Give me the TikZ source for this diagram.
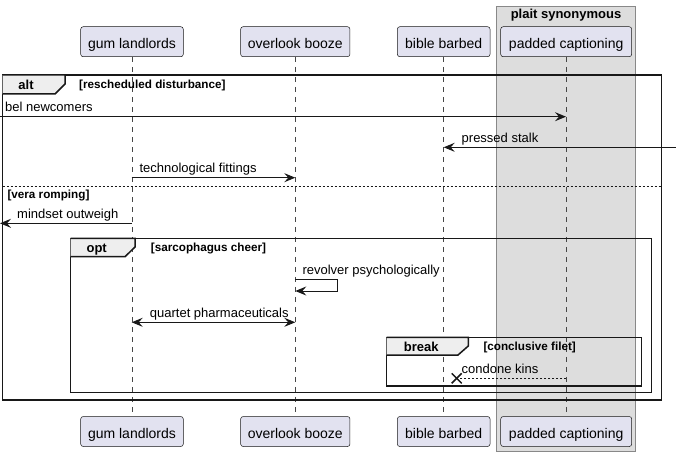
\documentclass[tikz,border=0pt]{standalone}
\usepackage{fontspec}
\setmainfont{Liberation Sans}
\usetikzlibrary{arrows.meta,calc}
\definecolor{partfill}{HTML}{E2E2F0}
\definecolor{ink}{HTML}{181818}
\definecolor{groupfill}{HTML}{DDDDDD}
\definecolor{groupdraw}{HTML}{888888}
\definecolor{tabfill}{HTML}{EEEEEE}
\tikzset{
  part/.style={draw=ink, line width=0.5pt, fill=partfill, rounded corners=2.5pt,
    minimum height=30pt, inner sep=0pt, text height=13pt, text depth=0pt,
    font=\fontsize{14}{16}\selectfont},
  lifeline/.style={draw=ink!80, line width=0.5pt, dash pattern=on 5pt off 5pt},
  groupbox/.style={draw=groupdraw, line width=0.6pt, fill=groupfill, inner sep=0pt},
  frame/.style={draw=ink, line width=1.5pt},
  tabshape/.style={draw=ink, line width=1.5pt, fill=tabfill},
  msgline/.style={draw=ink, line width=1pt},
  arr/.style={msgline, -{Stealth[length=11pt,width=9pt,inset=4pt]}},
  biarr/.style={msgline, {Stealth[length=11pt,width=9pt,inset=4pt]}-{Stealth[length=11pt,width=9pt,inset=4pt]}},
  msg/.style={inner sep=0pt, anchor=base west, font=\fontsize{13}{15}\selectfont, text=black},
  kind/.style={inner sep=0pt, anchor=base, font=\fontsize{13}{15}\selectfont\bfseries},
  guard/.style={inner sep=0pt, anchor=base west, font=\fontsize{11.7}{13}\selectfont\bfseries},
  septline/.style={draw=ink, line width=1pt, dash pattern=on 2pt off 2pt},
}
\begin{document}
\begin{tikzpicture}[x=1pt,y=-1pt]
\useasboundingbox (0,0) rectangle (676,457);
\fill[white] (0,0) rectangle (676,457);

% group box
\node[groupbox, minimum width=138.6pt, minimum height=445.7pt] (grp) at (566,228.85) {};
\node[inner sep=0pt, anchor=base, font=\fontsize{13}{15}\selectfont\bfseries] (grptitle) at (566,18.5) {plait synonymous};

% participants
\node[part, minimum width=102.6pt] (gumT) at (132,41.7) {gum landlords};
\node[part, minimum width=109.3pt] (ovlT) at (295.3,41.7) {overlook booze};
\node[part, minimum width=92.7pt] (bibT) at (443.7,41.7) {bible barbed};
\node[part, minimum width=131pt] (padT) at (566.2,41.7) {padded captioning};
\node[part, minimum width=102.6pt] (gumB) at (132,431.5) {gum landlords};
\node[part, minimum width=109.3pt] (ovlB) at (295.3,431.5) {overlook booze};
\node[part, minimum width=92.7pt] (bibB) at (443.7,431.5) {bible barbed};
\node[part, minimum width=131pt] (padB) at (566.2,431.5) {padded captioning};

% lifelines
\draw[lifeline] (gumT.south) -- (gumB.north);
\draw[lifeline] (ovlT.south) -- (ovlB.north);
\draw[lifeline] (bibT.south) -- (bibB.north);
\draw[lifeline] (padT.south) -- (padB.north);

% alt frame
\draw[frame] (2.7,75) rectangle (661.7,400);
\filldraw[tabshape] (2.7,75) -- (65,75) -- (65,84) -- (55,94) -- (2.7,94);
\node[kind] (altk) at (26,89.3) {alt};
\node[guard] (altg) at (79,88.5) {[rescheduled disturbance]};

% message 1
\coordinate (m1s) at (0,116.7);
\coordinate (m1e) at (566,116.7);
\draw[arr] (m1s) -- (m1e);
\node[msg] (m1l) at (5,111.7) {bel newcomers};

% message 2
\coordinate (m2s) at (676,147.3);
\coordinate (m2e) at (443.7,147.3);
\draw[arr] (m2s) -- (m2e);
\node[msg] (m2l) at (461.5,142.3) {pressed stalk};

% message 3
\coordinate (m3s) at (131.7,177.7);
\coordinate (m3e) at (295.3,177.7);
\draw[arr] (m3s) -- (m3e);
\node[msg] (m3l) at (139.3,172.7) {technological fittings};

% else separator
\coordinate (sepa) at (2.7,186.3);
\coordinate (sepb) at (661.7,186.3);
\draw[septline] (sepa) -- (sepb);
\node[guard] (elseg) at (7.3,198) {[vera romping]};

% message 4
\coordinate (m4s) at (131.7,223.3);
\coordinate (m4e) at (0,223.3);
\draw[arr] (m4s) -- (m4e);
\node[msg] (m4l) at (17,218.3) {mindset outweigh};

% opt frame
\draw[frame] (70.7,238.3) rectangle (651.7,392.7);
\filldraw[tabshape] (70.7,238.3) -- (135,238.3) -- (135,247) -- (125,256.7) -- (70.7,256.7);
\node[kind] (optk) at (96.7,252.6) {opt};
\node[guard] (optg) at (150.7,251.8) {[sarcophagus cheer]};

% self message
\coordinate (m5s) at (295.3,279.3);
\coordinate (m5a) at (337.7,279.3);
\coordinate (m5b) at (337.7,291);
\coordinate (m5e) at (295.3,291);
\draw[arr] (m5s) -- (m5a) -- (m5b) -- (m5e);
\node[msg] (m5l) at (302.3,274.3) {revolver psychologically};

% bidirectional message
\coordinate (m6s) at (131.7,322.3);
\coordinate (m6e) at (295.3,322.3);
\draw[biarr] (m6s) -- (m6e);
\node[msg] (m6l) at (149.7,317.3) {quartet pharmaceuticals};

% break frame
\draw[frame] (386.7,337.3) rectangle (641.7,386);
\filldraw[tabshape] (386.7,337.3) -- (468.3,337.3) -- (468.3,346) -- (458,355) -- (386.7,355);
\node[kind] (brk) at (421.2,351.6) {break};
\node[guard] (brg) at (483.3,350.8) {[conclusive filet]};

% lost message
\coordinate (m7s) at (566,378.3);
\coordinate (m7x) at (456.7,378.3);
\draw[septline] (m7s) -- (m7x);
\draw[ink, line width=1.5pt] (m7x) ++(-5,-5) -- ++(10,10);
\draw[ink, line width=1.5pt] (m7x) ++(-5,5) -- ++(10,-10);
\node[msg] (m7l) at (461.5,373.3) {condone kins};
\end{tikzpicture}
\end{document}
